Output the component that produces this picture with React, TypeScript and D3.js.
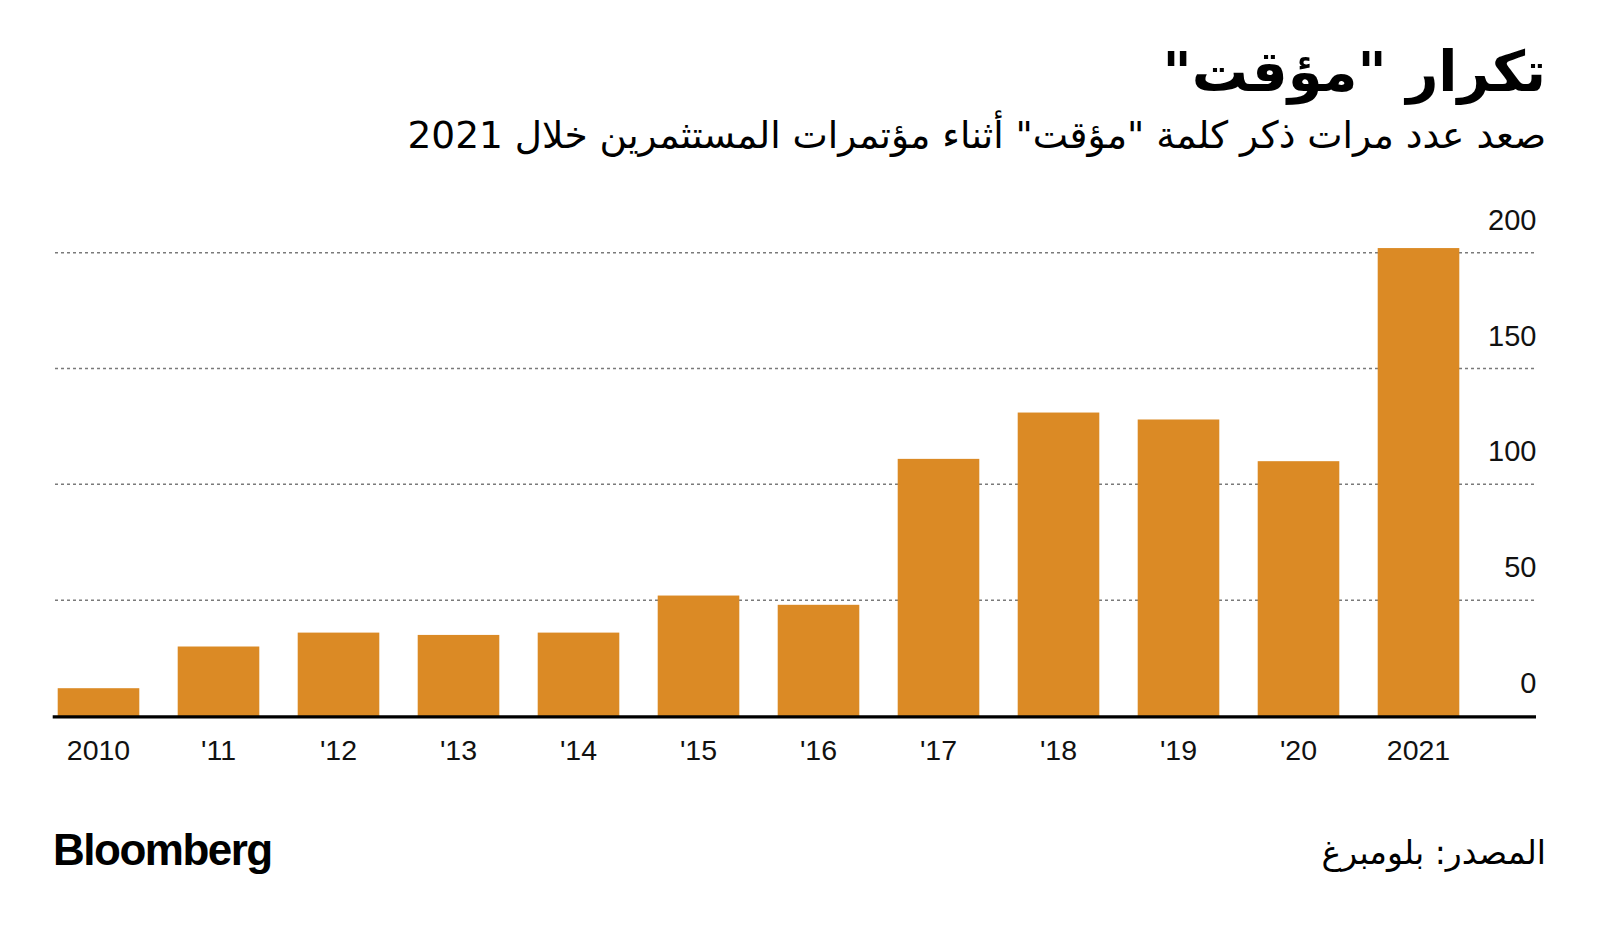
import React from "react";
import * as d3 from "d3";

const years = ["2010", "'11", "'12", "'13", "'14", "'15", "'16", "'17", "'18", "'19", "'20", "2021"];
const mentions = [12, 30, 36, 35, 36, 52, 48, 111, 131, 128, 110, 202];
const yTicks = [0, 50, 100, 150, 200];

const title = "تكرار \"مؤقت\"";
const subtitle = "صعد عدد مرات ذكر كلمة \"مؤقت\" أثناء مؤتمرات المستثمرين خلال 2021";
const source = "المصدر: بلومبرغ";

const W = 1600;
const H = 929;
const BAR = "#DB8A25";
const LATIN = "'Liberation Sans', Arial, sans-serif";
const ARABIC = "'DejaVu Sans', sans-serif";

export default function App() {
  const x = d3
    .scaleBand<string>()
    .domain(years)
    .range([57.7, 1459.3])
    .paddingInner(0.32)
    .paddingOuter(0);
  const y = d3.scaleLinear().domain([0, 200]).range([716, 252.7]);
  const axisLeft = 52.7;
  const axisRight = 1536;

  return (
    <svg
      width={W}
      height={H}
      viewBox={`0 0 ${W} ${H}`}
      style={{ position: "absolute", left: 0, top: 0, background: "#fff" }}
    >
      <rect x={0} y={0} width={W} height={H} fill="#fff" />
      <text x={1546} y={91} textAnchor="start" direction="rtl" fontFamily={ARABIC} fontWeight="bold" fontSize={56} fill="#000">
        {title}
      </text>
      <text x={1546} y={148} textAnchor="start" direction="rtl" fontFamily={ARABIC} fontSize={37.5} fill="#000">
        {subtitle}
      </text>

      {yTicks.filter((t) => t > 0).map((t) => (
        <line
          key={"g" + t}
          x1={55}
          x2={axisRight}
          y1={y(t)}
          y2={y(t)}
          stroke="#7a7a7a"
          strokeWidth={1.5}
          strokeDasharray="3 3"
        />
      ))}

      {years.map((yr, i) => (
        <rect
          key={yr}
          x={x(yr)}
          y={y(mentions[i])}
          width={x.bandwidth()}
          height={y(0) - y(mentions[i])}
          fill={BAR}
        />
      ))}

      <line x1={axisLeft} x2={axisRight} y1={y(0) + 0.8} y2={y(0) + 0.8} stroke="#000" strokeWidth={3.2} />

      {yTicks.map((t) => (
        <text
          key={"l" + t}
          x={1536.5}
          y={y(t) - 23}
          textAnchor="end"
          fontFamily={LATIN}
          fontSize={29}
          fill="#111"
        >
          {t}
        </text>
      ))}

      {years.map((yr) => (
        <text
          key={"x" + yr}
          x={(x(yr) as number) + x.bandwidth() / 2}
          y={760}
          textAnchor="middle"
          fontFamily={LATIN}
          fontSize={28.5}
          fill="#111"
        >
          {yr}
        </text>
      ))}

      <text x={53} y={865} fontFamily={LATIN} fontWeight="bold" fontSize={44} letterSpacing={-1.5} fill="#000">
        Bloomberg
      </text>
      <text x={1546} y={864} textAnchor="start" direction="rtl" fontFamily={ARABIC} fontSize={33} fill="#000">
        {source}
      </text>
    </svg>
  );
}
